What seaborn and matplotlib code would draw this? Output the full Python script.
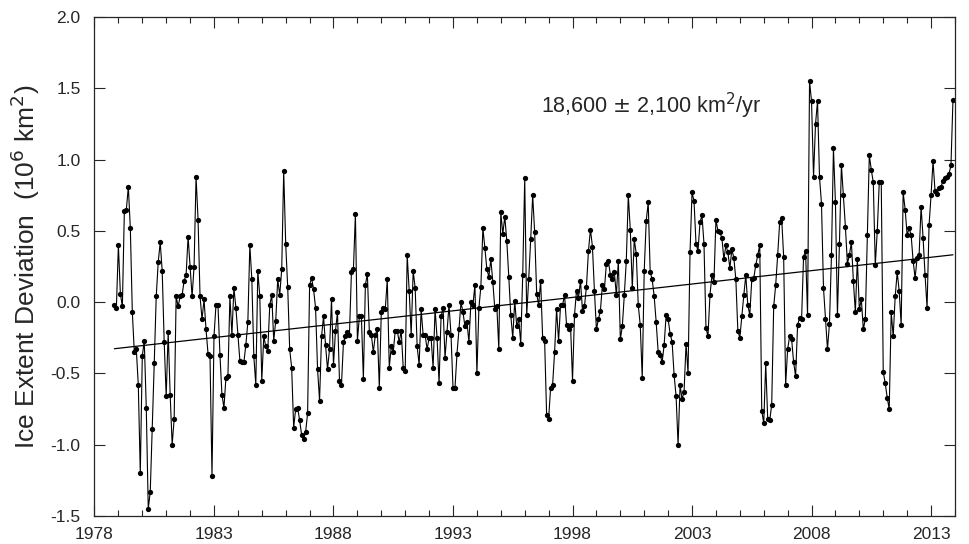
import numpy as np
import pandas as pd
import matplotlib.pyplot as plt
import seaborn as sns
from matplotlib.ticker import MultipleLocator, FormatStrFormatter

# Monthly ice extent deviation (10^6 km^2), Nov 1978 - Dec 2013
start_year = 1978
start_month = 11
deviation = [
    -0.02, -0.04,
    0.40, 0.06, -0.03, 0.64, 0.65, 0.81, 0.52, -0.07, -0.35, -0.33, -0.58, -1.20,
    -0.38, -0.27, -0.74, -1.45, -1.33, -0.89, -0.43, 0.04, 0.28, 0.42, 0.22, -0.28,
    -0.66, -0.21, -0.65, -1.00, -0.82, 0.04, -0.03, 0.04, 0.05, 0.15, 0.19, 0.46,
    0.25, 0.04, 0.25, 0.88, 0.58, 0.04, -0.12, 0.02, -0.19, -0.36, -0.38, -1.22,
    -0.24, -0.02, -0.02, -0.37, -0.65, -0.74, -0.53, -0.52, 0.04, -0.23, 0.10, -0.04,
    -0.23, -0.41, -0.42, -0.42, -0.30, -0.14, 0.40, 0.16, -0.38, -0.58, 0.22, 0.04,
    -0.55, -0.24, -0.31, -0.34, -0.02, 0.05, -0.27, -0.13, 0.16, 0.05, 0.23, 0.92,
    0.41, 0.11, -0.33, -0.46, -0.88, -0.75, -0.74, -0.83, -0.93, -0.96, -0.91, -0.78,
    0.12, 0.17, 0.09, -0.04, -0.47, -0.69, -0.24, -0.10, -0.30, -0.47, -0.33, 0.02,
    -0.44, -0.20, -0.07, -0.55, -0.58, -0.28, -0.24, -0.21, -0.23, 0.21, 0.23, 0.62,
    -0.27, -0.10, -0.10, -0.54, 0.12, 0.20, -0.21, -0.23, -0.35, -0.23, -0.19, -0.60,
    -0.07, -0.04, -0.05, 0.16, -0.46, -0.31, -0.35, -0.20, -0.20, -0.28, -0.20, -0.46,
    -0.48, 0.33, 0.08, -0.23, 0.22, 0.10, -0.31, -0.44, -0.05, -0.23, -0.23, -0.33,
    -0.25, -0.25, -0.46, -0.05, -0.25, -0.57, -0.10, -0.04, -0.39, -0.21, -0.02, -0.23,
    -0.60, -0.60, -0.36, -0.19, 0.00, -0.07, -0.17, -0.14, -0.28, 0.00, -0.02, 0.12,
    -0.50, -0.04, 0.11, 0.52, 0.38, 0.23, 0.18, 0.30, 0.14, -0.05, -0.03, -0.33,
    0.63, 0.48, 0.60, 0.43, 0.18, -0.09, -0.25, 0.01, -0.17, -0.12, -0.29, 0.19,
    0.87, -0.09, 0.16, 0.44, 0.75, 0.49, 0.06, -0.02, 0.15, -0.25, -0.27, -0.79,
    -0.82, -0.60, -0.58, -0.35, -0.05, -0.27, -0.02, -0.02, 0.05, -0.16, -0.19, -0.16,
    -0.55, -0.09, 0.08, 0.03, 0.15, -0.06, -0.03, 0.11, 0.36, 0.51, 0.39, 0.08,
    -0.19, -0.12, -0.06, 0.12, 0.09, 0.27, 0.29, 0.19, 0.16, 0.21, 0.05, 0.29,
    -0.26, -0.17, 0.05, 0.29, 0.75, 0.51, 0.10, 0.44, 0.34, -0.02, -0.16, -0.53,
    0.22, 0.57, 0.70, 0.21, 0.16, 0.04, -0.14, -0.35, -0.37, -0.42, -0.30, -0.09,
    -0.12, -0.22, -0.28, -0.51, -0.66, -1.00, -0.58, -0.68, -0.63, -0.29, -0.50, 0.35,
    0.77, 0.71, 0.41, 0.36, 0.56, 0.61, 0.41, -0.18, -0.24, 0.05, 0.19, 0.14,
    0.58, 0.50, 0.49, 0.45, 0.30, 0.40, 0.35, 0.24, 0.37, 0.31, 0.16, -0.20,
    -0.25, -0.10, 0.05, 0.19, -0.02, -0.09, 0.16, 0.17, 0.26, 0.33, 0.40, -0.76,
    -0.85, -0.43, -0.82, -0.83, -0.72, -0.03, 0.12, 0.33, 0.56, 0.59, 0.32, -0.58,
    -0.33, -0.24, -0.26, -0.42, -0.52, -0.16, -0.11, -0.12, 0.32, 0.36, -0.09, 1.55,
    1.41, 0.88, 1.25, 1.41, 0.88, 0.69, 0.10, -0.12, -0.33, -0.15, 0.33, 1.08,
    0.70, -0.09, 0.41, 0.96, 0.75, 0.53, 0.27, 0.33, 0.42, 0.15, -0.07, 0.30,
    -0.05, 0.02, -0.19, -0.12, 0.47, 1.03, 0.93, 0.84, 0.26, 0.50, 0.84, 0.84,
    -0.49, -0.57, -0.67, -0.75, -0.07, -0.24, 0.04, 0.21, 0.08, -0.16, 0.77, 0.65,
    0.47, 0.52, 0.47, 0.29, 0.17, 0.31, 0.33, 0.67, 0.45, 0.19, -0.04, 0.54,
    0.75, 0.99, 0.78, 0.76, 0.80, 0.81, 0.85, 0.87, 0.88, 0.90, 0.96, 1.42,
]

trend_label = "18,600 $\\pm$ 2,100 km$^2$/yr"
year_ticks = [1978, 1983, 1988, 1993, 1998, 2003, 2008, 2013]

months = start_month - 1 + np.arange(len(deviation))
df = pd.DataFrame({"year": start_year + months / 12.0, "dev": deviation})

sns.set_style("ticks")
plt.rcParams["font.family"] = ["Liberation Sans", "DejaVu Sans"]
plt.rcParams["axes.unicode_minus"] = False

fig = plt.figure(figsize=(9.69, 5.44), dpi=100)
ax = fig.add_axes([0.0975, 0.0515, 0.888, 0.917])

sns.lineplot(data=df, x="year", y="dev", ax=ax, color="black", linewidth=0.8,
             marker="o", markersize=3.8, markeredgewidth=0, estimator=None)

# linear trend
slope, intercept = np.polyfit(df["year"], df["dev"], 1)
ax.plot(df["year"], slope * df["year"] + intercept, color="black", linewidth=0.9)

ax.text(2001.3, 1.38, trend_label, ha="center", va="center", fontsize=15.5)

ax.set_xlim(1978, 2014)
ax.set_ylim(-1.5, 2.0)
ax.set_xticks(year_ticks)
ax.xaxis.set_minor_locator(MultipleLocator(1))
ax.yaxis.set_major_locator(MultipleLocator(0.5))
ax.yaxis.set_major_formatter(FormatStrFormatter("%.1f"))
ax.tick_params(axis="both", which="both", direction="in", top=True, right=True,
               labelsize=12.5, width=0.8)
ax.tick_params(axis="x", which="major", length=8, pad=8)
ax.tick_params(axis="y", which="major", length=8, pad=10)
ax.tick_params(axis="both", which="minor", length=4)
for s in ax.spines.values():
    s.set_linewidth(0.9)

ax.set_xlabel("")
ax.set_ylabel("Ice Extent Deviation  (10$^6$ km$^2$)", fontsize=19, labelpad=6)

fig.savefig("out.png", dpi=100)
